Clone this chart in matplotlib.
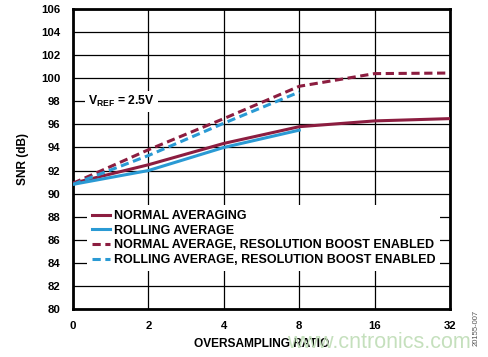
import numpy as np
import matplotlib
matplotlib.use("Agg")
import matplotlib.pyplot as plt

plt.rcParams['font.family'] = ['Liberation Sans', 'DejaVu Sans']
plt.rcParams['font.weight'] = 'bold'
plt.rcParams['axes.labelweight'] = 'bold'
plt.rcParams['mathtext.default'] = 'regular'

# oversampling ratios, plotted at equal spacing
ratios = ["0", "2", "4", "8", "16", "32"]

# SNR (dB)
normal_avg = [90.9, 92.5, 94.35, 95.8, 96.3, 96.5]
rolling_avg = [90.8, 92.0, 94.0, 95.5]
normal_boost = [90.9, 93.8, 96.5, 99.3, 100.4, 100.45]
rolling_boost = [90.8, 93.3, 96.1, 98.8]

maroon = "#8c1d40"
blue = "#2a9ad4"

fig = plt.figure(figsize=(4.88, 3.57), dpi=100)
ax = fig.add_axes([0.1496, 0.1345, 0.7726, 0.8403])

xn = np.arange(len(normal_avg))
xr = np.arange(len(rolling_avg))

dash = (0, (2.7, 1.5))
ax.plot(xn, normal_avg, c=maroon, lw=2.2, label="NORMAL AVERAGING", zorder=3)
ax.plot(xr, rolling_avg, c=blue, lw=2.2, label="ROLLING AVERAGE", zorder=3)
ax.plot(xn, normal_boost, c=maroon, lw=2.2, ls=dash,
        label="NORMAL AVERAGE, RESOLUTION BOOST ENABLED", zorder=3)
ax.plot(xr, rolling_boost, c=blue, lw=2.2, ls=dash,
        label="ROLLING AVERAGE, RESOLUTION BOOST ENABLED", zorder=3)

ax.set_xlim(0, len(ratios) - 1)
ax.set_ylim(80, 106)
ax.set_xticks(np.arange(len(ratios)))
ax.set_xticklabels(ratios)
ax.set_yticks(np.arange(80, 107, 2))
ax.tick_params(axis="y", length=0, labelsize=8.2, pad=9)
ax.tick_params(axis="x", length=0, labelsize=8.2, pad=9)

ax.grid(True, color="black", lw=0.9)
ax.set_axisbelow(True)
for s in ax.spines.values():
    s.set_linewidth(2.0)

ax.set_ylabel("SNR (dB)", fontsize=8.6, labelpad=9)
ax.set_xlabel("OVERSAMPLING RATIO", fontsize=8.6, labelpad=5)

ax.text(0.2, 98, "V$_{REF}$ = 2.5V", fontsize=8.8, va="center",
        ha="left", bbox=dict(fc="white", ec="none", pad=2), zorder=2)

leg = ax.legend(loc="lower left", bbox_to_anchor=(0.02, 0.105), fontsize=9,
                frameon=True, fancybox=False, edgecolor="none",
                framealpha=1.0, handlelength=1.45, handletextpad=0.3,
                labelspacing=0.22, borderpad=0.4)
leg.set_zorder(2)

fig.text(0.777, 0.04, "www.cntronics.com", color="#c5e0bd", fontsize=15.5,
         fontweight="normal", ha="center", va="center")
fig.text(0.975, 0.081, "20155-007", rotation=90, fontsize=5.5,
         fontweight="normal", color="#555555", ha="center", va="center")

fig.savefig("out.png", dpi=100)
